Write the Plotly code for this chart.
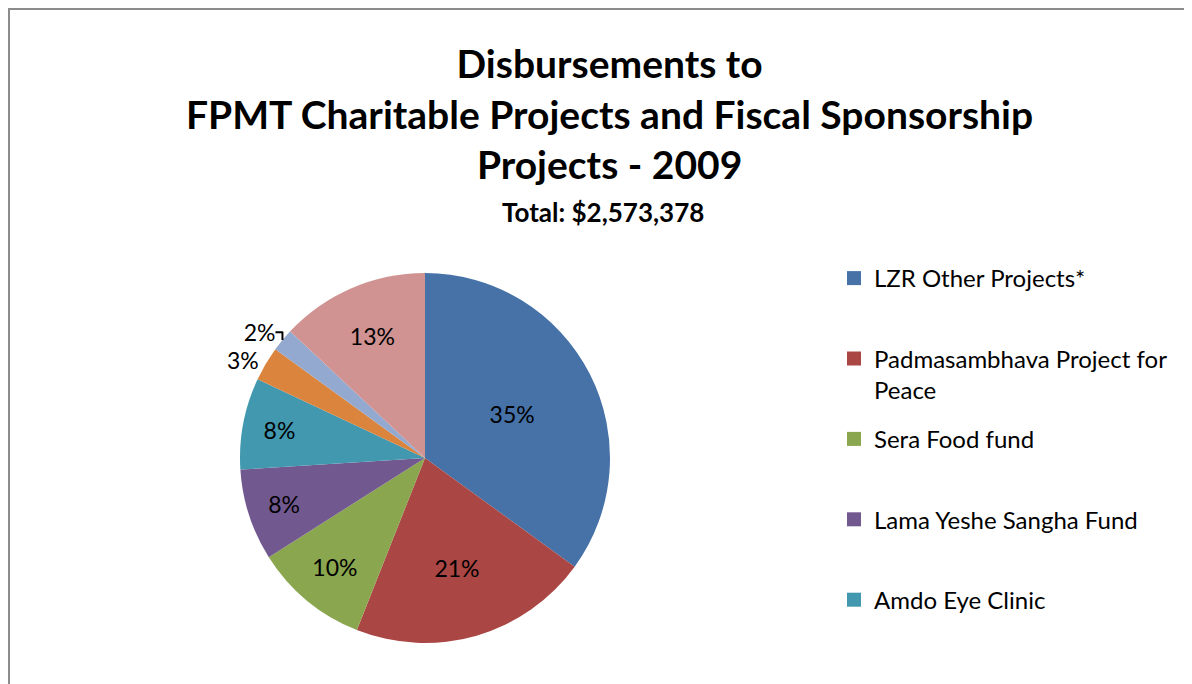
import plotly.graph_objects as go

# ---- data ----
categories = [
    "LZR Other Projects*",
    "Padmasambhava Project for Peace",
    "Sera Food fund",
    "Lama Yeshe Sangha Fund",
    "Amdo Eye Clinic",
    "Holy Objects Fund",
    "Puja Fund",
    "Fiscal Sponsorship Projects",
]
shares = [35, 21, 10, 8, 8, 3, 2, 13]
colors = ["#4672A8", "#AA4643", "#8AA64E", "#71588F", "#4198AF", "#DB843D", "#93A9D0", "#D09392"]
title_lines = ["Disbursements to", "FPMT Charitable Projects and Fiscal Sponsorship", "Projects - 2009"]
subtitle = "Total: $2,573,378"
# the reference legend is cropped after its fifth entry
legend_count = 5

W, H = 1192, 684
OFF = 8  # page body margin
FONT = "Lato, 'Open Sans', sans-serif"


def px(x):
    return (x - OFF) / W


def py(y):
    return 1 - (y - OFF) / H


def legend_text(name):
    if name == "Padmasambhava Project for Peace":
        return "Padmasambhava Project for<br>Peace"
    return name + "<br> "


text_pos = ["inside" if s >= 5 else "outside" for s in shares]

fig = go.Figure()
fig.add_trace(go.Pie(
    labels=categories,
    values=shares,
    hovertemplate="%{label}: %{percent}<extra></extra>",
    sort=False,
    direction="clockwise",
    rotation=0,
    marker=dict(colors=colors, line=dict(width=0)),
    texttemplate="%{percent:.0%}",
    textposition=text_pos,
    textfont=dict(family=FONT, size=23, color="black"),
    insidetextorientation="horizontal",
    domain=dict(x=[px(240), px(610)], y=[py(643), py(273)]),
    showlegend=False,
))

# legend entries (colour keys for the visible part of the legend)
for name, col in zip(categories[:legend_count], colors[:legend_count]):
    fig.add_trace(go.Scatter(
        x=[None], y=[None], mode="markers",
        marker=dict(symbol="square", size=14, color=col, line=dict(width=0)),
        name=legend_text(name), legendgroup=name, showlegend=True,
        hoverinfo="skip",
    ))

fig.update_layout(
    width=W, height=H,
    margin=dict(l=0, r=0, t=0, b=0),
    paper_bgcolor="white",
    plot_bgcolor="white",
    font=dict(family=FONT, color="black"),
    xaxis=dict(visible=False),
    yaxis=dict(visible=False),
    legend=dict(
        x=px(834), xanchor="left",
        y=py(256), yanchor="top",
        valign="top",
        tracegroupgap=15,
        font=dict(family=FONT, size=24, color="black"),
        bgcolor="rgba(0,0,0,0)",
    ),
    annotations=[
        dict(
            text="<b>" + "<br>".join(title_lines) + "</b>",
            x=px(609), y=py(114), xref="paper", yref="paper",
            xanchor="center", yanchor="middle", showarrow=False,
            font=dict(family=FONT, size=39, color="black"),
        ),
        dict(
            text="<b>" + subtitle + "</b>",
            x=px(603), y=py(212), xref="paper", yref="paper",
            xanchor="center", yanchor="middle", showarrow=False,
            font=dict(family=FONT, size=26, color="black"),
        ),
    ],
    shapes=[dict(
        type="rect", xref="paper", yref="paper",
        x0=1 / W, x1=1.05, y0=-0.05, y1=1 - 1 / H,
        line=dict(color="#8C8C8C", width=2), fillcolor="rgba(0,0,0,0)",
        layer="below",
    )],
)

fig.write_html("out.html")
